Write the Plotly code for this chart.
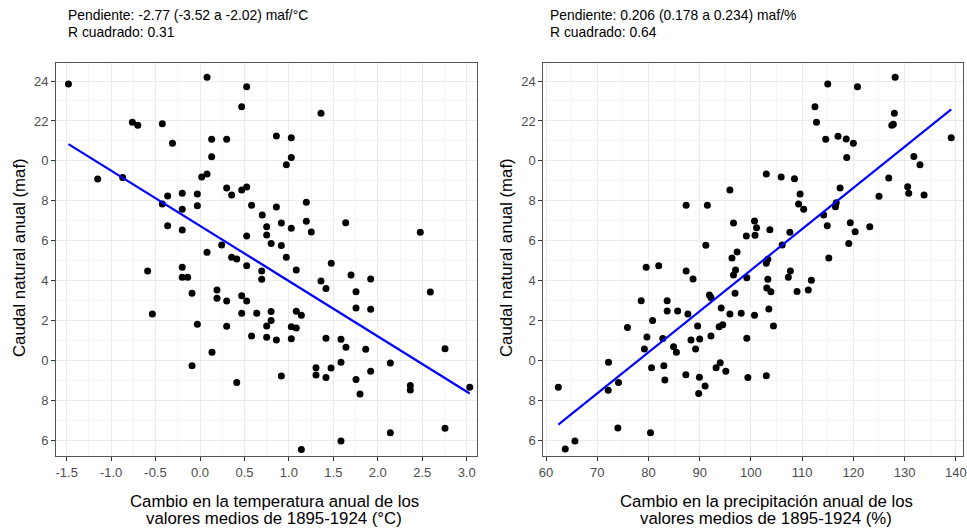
import plotly.graph_objects as go

# ---------------- data ----------------
temp_x = [-1.48, 0.079, 0.525, 0.469, -0.761, -0.70, -0.424, -0.31, 0.131, 0.30,
          0.131, -1.151, -0.87, 0.019, 0.079, -0.364, -0.20, -0.03, 0.30, 0.356,
          0.469, 0.525, -0.424, -0.20, -0.03, 0.58, 0.70, -0.364, -0.20, 0.525,
          0.244, 0.079, 0.356, 0.413, 1.361, 0.859, 1.027, 1.027, 0.971, 0.859,
          1.196, 0.75, 0.75, 0.915, 1.027, 1.196, 1.252, 1.639, 2.478, 0.80,
          0.915, 0.971, 0.525, 0.694, 0.694, -0.589, -0.20, -0.20, -0.139, -0.09,
          0.191, 0.191, 0.30, 0.469, 0.525, 0.469, 0.638, -0.536, -0.03, 0.30,
          0.58, 0.75, 0.75, 0.135, -0.09, 0.413, 1.083, 1.477, 1.361, 1.417,
          1.699, 1.92, 1.755, 1.755, 1.92, 2.591, 0.80, 0.80, 1.083, 1.14,
          1.027, 1.083, 0.859, 1.027, 1.417, 1.586, 1.642, 1.864, 2.756, 1.586,
          2.141, 1.305, 1.474, 1.305, 1.417, 1.92, 0.915, 1.755, 1.80, 2.366,
          2.366, 3.034, 2.141, 2.756, 1.586, 1.14]
temp_y = [23.85, 24.19, 23.71, 22.71, 21.94, 21.79, 21.86, 20.88, 21.08, 21.08,
          20.21, 19.09, 19.17, 19.19, 19.34, 18.24, 18.37, 18.34, 18.64, 18.29,
          18.54, 18.69, 17.83, 17.57, 17.75, 17.77, 17.28, 16.75, 16.53, 16.23,
          15.78, 15.41, 15.16, 15.08, 22.38, 21.24, 21.16, 20.17, 19.80, 17.68,
          17.92, 16.70, 16.28, 16.88, 16.62, 16.97, 16.43, 16.90, 16.42, 15.86,
          15.76, 15.16, 14.74, 14.48, 14.06, 14.48, 14.66, 14.16, 14.16, 13.36,
          13.52, 13.11, 12.97, 13.24, 12.97, 12.36, 12.36, 12.32, 11.80, 11.70,
          11.22, 11.15, 11.72, 10.40, 9.73, 8.88, 14.53, 14.86, 13.97, 13.60,
          14.28, 14.08, 13.44, 12.62, 12.56, 13.42, 12.44, 11.99, 12.46, 12.26,
          11.68, 11.62, 11.02, 11.08, 11.10, 11.05, 10.65, 10.55, 10.58, 9.90,
          9.86, 9.63, 9.61, 9.26, 9.13, 9.45, 9.21, 9.03, 8.31, 8.73,
          8.51, 8.65, 6.36, 6.59, 5.95, 5.52]

prec_x = [62.4, 63.76, 65.65, 74.03, 80.4, 72.2, 74.15, 72.14, 75.9, 78.58,
          79.55, 82.0, 80.8, 79.7, 79.2, 80.6, 82.8, 83.0, 83.2, 83.65,
          83.65, 85.7, 84.9, 85.45, 87.35, 87.35, 88.7, 87.7, 89.6, 88.3,
          90.0, 89.2, 87.3, 89.94, 91.05, 89.8, 91.5, 91.2, 91.9, 92.2,
          92.2, 93.2, 94.0, 95.1, 94.2, 93.8, 94.5, 95.9, 95.9, 96.6,
          96.3, 97.3, 97.0, 96.6, 96.9, 98.1, 99.1, 99.2, 99.2, 99.4,
          128.15, 115.0, 120.8, 112.5, 128.0, 112.8, 127.5, 127.8, 114.6, 117.0,
          118.6, 120.0, 139.1, 118.7, 103.0, 105.9, 108.5, 131.8, 133.0, 126.9,
          109.6, 117.4, 109.3, 110.3, 130.6, 130.8, 133.8, 125.0, 116.65, 116.5,
          114.2, 114.9, 119.4, 120.35, 123.2, 119.1, 115.2, 100.7, 101.1, 100.8,
          103.7, 107.6, 106.1, 103.3, 103.0, 103.3, 103.1, 103.9, 107.7, 107.3,
          109.0, 111.2, 111.8, 100.7, 103.5, 104.4, 103.0]
prec_y = [8.65, 5.55, 5.95, 6.60, 6.36, 9.90, 8.88, 8.50, 11.64, 12.99,
          14.67, 14.74, 11.99, 11.17, 10.57, 9.62, 11.09, 9.73, 9.01, 12.99,
          12.47, 12.47, 10.68, 10.40, 17.77, 14.48, 14.08, 12.32, 11.72, 11.02,
          11.07, 10.57, 9.28, 9.15, 8.71, 8.33, 17.77, 15.77, 13.27, 13.15,
          11.22, 9.62, 9.88, 9.45, 12.62, 11.68, 11.78, 12.32, 18.54, 16.88,
          15.13, 15.43, 14.53, 14.28, 13.36, 12.36, 16.23, 14.14, 11.10, 9.13,
          24.19, 23.85, 23.71, 22.71, 22.38, 21.93, 21.79, 21.84, 21.08, 21.23,
          21.09, 20.88, 21.16, 20.17, 19.34, 19.19, 19.10, 20.22, 19.80, 19.14,
          18.34, 18.64, 17.83, 17.57, 18.70, 18.37, 18.29, 18.22, 17.90, 17.70,
          17.28, 16.75, 16.90, 16.45, 16.70, 15.86, 15.13, 16.98, 16.65, 16.27,
          16.55, 16.42, 15.78, 15.06, 14.86, 14.06, 13.62, 13.44, 14.48, 14.16,
          13.45, 13.52, 14.01, 12.26, 12.57, 11.72, 9.23]

temp_fit = {"slope": -2.77, "intercept": 16.74}
prec_fit = {"slope": 0.206, "intercept": -6.08}

y_tickvals = [6, 8, 10, 12, 14, 16, 18, 20, 22, 24]
y_ticktext = ["6", "8", "0", "2", "4", "6", "8", "0", "22", "24"]
temp_tickvals = [-1.5, -1.0, -0.5, 0.0, 0.5, 1.0, 1.5, 2.0, 2.5, 3.0]
temp_ticktext = ["-1.5", "-1.0", "-0.5", "0.0", "0.5", "1.0", "1.5", "2.0", "2.5", "3.0"]
prec_tickvals = [60, 70, 80, 90, 100, 110, 120, 130, 140]
prec_ticktext = ["60", "70", "80", "90", "100", "110", "120", "130", "140"]

label_left = ["Pendiente: -2.77 (-3.52 a -2.02) maf/°C", "R cuadrado: 0.31"]
label_right = ["Pendiente: 0.206 (0.178 a 0.234) maf/%", "R cuadrado: 0.64"]
xtitle_left = ["Cambio en la temperatura anual de los", "valores medios de 1895-1924 (°C)"]
xtitle_right = ["Cambio en la precipitación anual de los", "valores medios de 1895-1924 (%)"]
ytitle = "Caudal natural anual (maf)"

# ---------------- figure ----------------
W, H = 967, 531
FONT = "Liberation Sans, Arial, Helvetica, sans-serif"

def px_x(p):
    return p / W

def px_y(p):
    return 1 - p / H

fig = go.Figure()

fig.add_trace(go.Scatter(x=temp_x, y=temp_y, mode="markers",
                         marker=dict(color="black", size=7),
                         xaxis="x", yaxis="y", showlegend=False))
tx = [min(temp_x), max(temp_x)]
fig.add_trace(go.Scatter(x=tx, y=[temp_fit["intercept"] + temp_fit["slope"] * v for v in tx],
                         mode="lines", line=dict(color="#0000FF", width=2.2),
                         xaxis="x", yaxis="y", showlegend=False))

fig.add_trace(go.Scatter(x=prec_x, y=prec_y, mode="markers",
                         marker=dict(color="black", size=7),
                         xaxis="x2", yaxis="y2", showlegend=False))
pxr = [min(prec_x), max(prec_x)]
fig.add_trace(go.Scatter(x=pxr, y=[prec_fit["intercept"] + prec_fit["slope"] * v for v in pxr],
                         mode="lines", line=dict(color="#0000FF", width=2.2),
                         xaxis="x2", yaxis="y2", showlegend=False))

grid_major = "#EBEBEB"
grid_minor = "#F5F5F5"
border = "#555555"
tickfont = dict(family=FONT, size=13, color="#4D4D4D")

common_x = dict(showgrid=True, gridcolor=grid_major, gridwidth=1, zeroline=False,
                showline=True, mirror=True, linecolor=border, linewidth=1,
                ticks="outside", ticklen=4, tickcolor="#333333", tickfont=tickfont,
                automargin=False)

top_px, bot_px = 63.3, 456
yd = [px_y(bot_px), px_y(top_px)]

fig.update_layout(
    width=W, height=H,
    margin=dict(l=0, r=0, t=0, b=0),
    paper_bgcolor="white", plot_bgcolor="white",
    font=dict(family=FONT),
    xaxis=dict(domain=[px_x(56), px_x(477)], range=[-1.62, 3.116], anchor="y",
               tickvals=temp_tickvals, ticktext=temp_ticktext,
               minor=dict(showgrid=True, gridcolor=grid_minor, tick0=-1.75, dtick=0.5, ticks=""),
               **common_x),
    yaxis=dict(domain=yd, range=[5.2, 24.89], anchor="x",
               tickvals=y_tickvals, ticktext=y_ticktext,
               minor=dict(showgrid=True, gridcolor=grid_minor, tick0=5, dtick=2, ticks=""),
               **common_x),
    xaxis2=dict(domain=[px_x(543.3), px_x(963)], range=[59.47, 141.4], anchor="y2",
                tickvals=prec_tickvals, ticktext=prec_ticktext,
                minor=dict(showgrid=True, gridcolor=grid_minor, tick0=55, dtick=10, ticks=""),
                **common_x),
    yaxis2=dict(domain=yd, range=[5.2, 24.89], anchor="x2",
                tickvals=y_tickvals, ticktext=y_ticktext,
                minor=dict(showgrid=True, gridcolor=grid_minor, tick0=5, dtick=2, ticks=""),
                **common_x),
)

ann = []
for i, t in enumerate(label_left):
    ann.append(dict(text=t, x=px_x(66), y=px_y(15 + 17 * i), xref="paper", yref="paper",
                    xanchor="left", yanchor="middle", showarrow=False,
                    font=dict(family=FONT, size=13.9, color="black")))
for i, t in enumerate(label_right):
    ann.append(dict(text=t, x=px_x(548), y=px_y(15 + 17 * i), xref="paper", yref="paper",
                    xanchor="left", yanchor="middle", showarrow=False,
                    font=dict(family=FONT, size=13.9, color="black")))
for i, t in enumerate(xtitle_left):
    ann.append(dict(text=t, x=px_x(274), y=px_y(501 + 17 * i), xref="paper", yref="paper",
                    xanchor="center", yanchor="middle", showarrow=False,
                    font=dict(family=FONT, size=16.8, color="black")))
for i, t in enumerate(xtitle_right):
    ann.append(dict(text=t, x=px_x(766), y=px_y(501 + 17 * i), xref="paper", yref="paper",
                    xanchor="center", yanchor="middle", showarrow=False,
                    font=dict(family=FONT, size=16.8, color="black")))
ann.append(dict(text=ytitle, x=px_x(19), y=px_y(258), xref="paper", yref="paper",
                xanchor="center", yanchor="middle", showarrow=False, textangle=-90,
                font=dict(family=FONT, size=16.8, color="black")))
ann.append(dict(text=ytitle, x=px_x(506), y=px_y(258), xref="paper", yref="paper",
                xanchor="center", yanchor="middle", showarrow=False, textangle=-90,
                font=dict(family=FONT, size=16.8, color="black")))
fig.update_layout(annotations=ann)

fig.write_html("out.html",
               config={"displayModeBar": False},
               post_script="document.body.style.margin='0';document.body.style.overflow='hidden';")
